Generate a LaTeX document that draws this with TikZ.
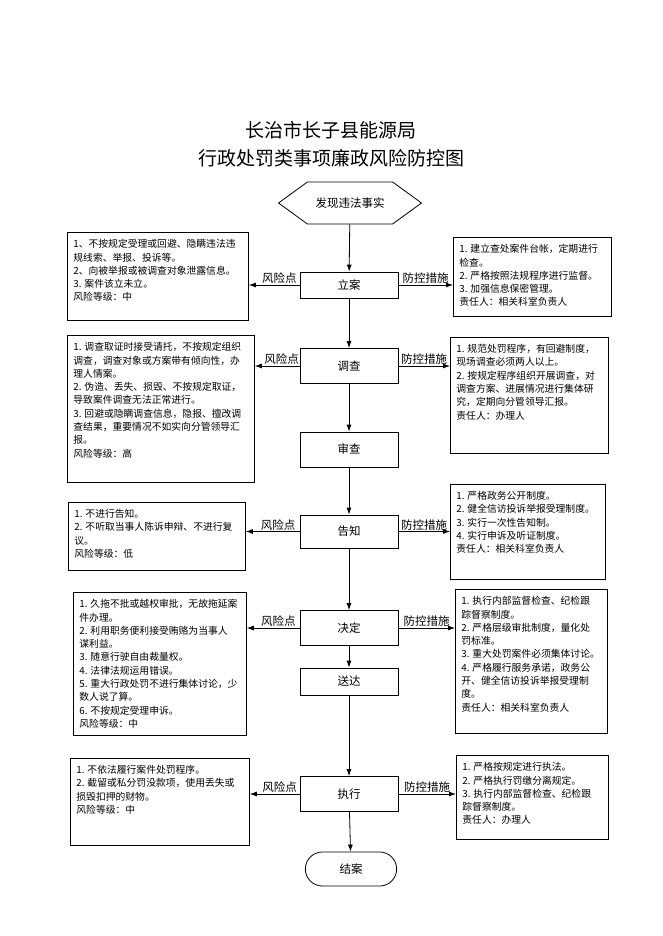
\documentclass[tikz,border=0pt]{standalone}
\usepackage{fontspec}
\setmainfont{Noto Sans CJK SC}
\usetikzlibrary{arrows.meta,shapes.symbols,shapes.misc}

\newcommand{\boxtext}[3]{\begin{minipage}[t][#2][t]{#1}\raggedright
\fontsize{9.8pt}{13.3pt}\selectfont #3\end{minipage}}

\begin{document}
\begin{tikzpicture}[x=1pt,y=-1pt,>={Latex[length=7pt,width=5pt]}]
\tikzstyle{stepbox} = [rectangle, draw, line width=0.8pt, minimum width=98pt,
minimum height=35pt, font=\fontsize{11.5pt}{14pt}\selectfont]
\tikzstyle{start} = [signal, signal to=west and east, signal pointer angle=72,
draw, line width=0.8pt, minimum width=143pt, minimum height=42pt,
font=\fontsize{11.5pt}{14pt}\selectfont]
\tikzstyle{finish} = [rounded rectangle, draw, line width=0.8pt, minimum width=98pt,
minimum height=34pt, font=\fontsize{11.5pt}{14pt}\selectfont]
\tikzstyle{riskbox} = [rectangle, draw, line width=0.8pt, anchor=north west,
inner xsep=6pt, inner ysep=7pt]
\tikzstyle{tag} = [font=\fontsize{11.5pt}{14pt}\selectfont, inner sep=1pt]
\tikzstyle{line} = [draw, line width=0.8pt, ->]
\tikzstyle{title} = [font=\fontsize{19pt}{22pt}\selectfont]

\useasboundingbox (0,0) rectangle (662,936);

% title
\node [title] (title1) at (331,130) {长治市长子县能源局};
\node [title] (title2) at (331,158) {行政处罚类事项廉政风险防控图};

% main column
\node [start] (faxian) at (350,203) {发现违法事实};
\node [stepbox, minimum height=26pt] (lian) at (349,285) {立案};
\node [stepbox] (diaocha) at (349,366) {调查};
\node [stepbox] (shencha) at (349,449.5) {审查};
\node [stepbox, minimum height=33pt] (gaozhi) at (349,531.5) {告知};
\node [stepbox] (jueding) at (349,628) {决定};
\node [stepbox, minimum height=27pt] (songda) at (349,681.5) {送达};
\node [stepbox] (zhixing) at (349,794) {执行};
\node [finish] (jiean) at (351,869) {结案};

% risk points
\node [riskbox] (risklian) at (67,232) {\boxtext{169pt}{74pt}{%
1、不按规定受理或回避、隐瞒违法违\\
规线索、举报、投诉等。\\
2、向被举报或被调查对象泄露信息。\\
3. 案件该立未立。\\
风险等级：中}};
\node [riskbox] (riskdiaocha) at (67,335) {\boxtext{175pt}{133pt}{%
1. 调查取证时接受请托，不按规定组织\\
调查，调查对象或方案带有倾向性，办\\
理人情案。\\
2. 伪造、丢失、损毁、不按规定取证，\\
导致案件调查无法正常进行。\\
3. 回避或隐瞒调查信息，隐报、擅改调\\
查结果，重要情况不如实向分管领导汇\\
报。\\
风险等级：高}};
\node [riskbox] (riskgaozhi) at (68,502) {\boxtext{165pt}{54pt}{%
1. 不进行告知。\\
2. 不听取当事人陈诉申辩、不进行复\\
议。\\
风险等级：低}};
\node [riskbox] (riskjueding) at (73,592) {\boxtext{161pt}{129pt}{%
1. 久拖不批或越权审批，无故拖延案\\
件办理。\\
2. 利用职务便利接受贿赂为当事人\\
谋利益。\\
3. 随意行驶自由裁量权。\\
4. 法律法规运用错误。\\
5. 重大行政处罚不进行集体讨论，少\\
数人说了算。\\
6. 不按规定受理申诉。\\
风险等级：中}};
\node [riskbox] (riskzhixing) at (70,758) {\boxtext{167pt}{73pt}{%
1. 不依法履行案件处罚程序。\\
2. 截留或私分罚没款项，使用丢失或\\
损毁扣押的财物。\\
风险等级：中}};

% control measures
\node [riskbox] (ctrllian) at (453,237) {\boxtext{146pt}{65pt}{%
1. 建立查处案件台帐，定期进行\\
检查。\\
2. 严格按照法规程序进行监督。\\
3. 加强信息保密管理。\\
责任人：相关科室负责人}};
\node [riskbox] (ctrldiaocha) at (450,337) {\boxtext{146pt}{102pt}{%
1. 规范处罚程序，有回避制度，\\
现场调查必须两人以上。\\
2. 按规定程序组织开展调查，对\\
调查方案、进展情况进行集体研\\
究，定期向分管领导汇报。\\
责任人：办理人}};
\node [riskbox] (ctrlgaozhi) at (450,484) {\boxtext{143pt}{81pt}{%
1. 严格政务公开制度。\\
2. 健全信访投诉举报受理制度。\\
3. 实行一次性告知制。\\
4. 实行申诉及听证制度。\\
责任人：相关科室负责人}};
\node [riskbox] (ctrljueding) at (455,589) {\boxtext{140pt}{130pt}{%
1. 执行内部监督检查、纪检跟\\
踪督察制度。\\
2. 严格层级审批制度，量化处\\
罚标准。\\
3. 重大处罚案件必须集体讨论。\\
4. 严格履行服务承诺，政务公\\
开、健全信访投诉举报受理制\\
度。\\
责任人：相关科室负责人}};
\node [riskbox] (ctrlzhixing) at (456,755) {\boxtext{140pt}{70pt}{%
1. 严格按规定进行执法。\\
2. 严格执行罚缴分离规定。\\
3. 执行内部监督检查、纪检跟\\
踪督察制度。\\
责任人：办理人}};

% flow
\path [line] (faxian) -- (lian);
\path [line] (lian) -- (diaocha);
\path [line] (diaocha) -- (shencha);
\path [line] (shencha) -- (gaozhi);
\path [line] (gaozhi) -- (jueding);
\path [line] (jueding) -- (songda);
\path [line] (songda) -- (zhixing);
\path [line] (zhixing) -- (jiean);

% side arrows
\foreach \s in {lian,diaocha,gaozhi,jueding,zhixing}
{
\path [line] (\s.west) -- node [tag, above, pos=0.4] {风险点} (\s.west -| risk\s.east);
\path [line] (\s.east) -- node [tag, above] {防控措施} (\s.east -| ctrl\s.west);
}

\end{tikzpicture}
\end{document}
